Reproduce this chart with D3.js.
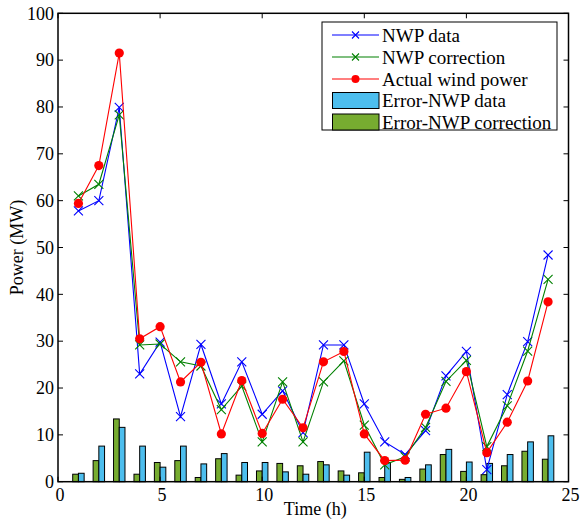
<!DOCTYPE html>
<html>
<head>
<meta charset="utf-8">
<script src="https://cdn.jsdelivr.net/npm/d3@7"></script>
<style>
  html, body { margin: 0; padding: 0; background: #fff; }
</style>
</head>
<body>
<svg id="chart" width="581" height="524"></svg>
<script>
// Hourly wind power: forecast, corrected forecast and measured output (MW)
const hours = [1, 2, 3, 4, 5, 6, 7, 8, 9, 10, 11, 12, 13, 14, 15, 16, 17, 18, 19, 20, 21, 22, 23, 24];
const nwpData = [57.8, 60.0, 79.9, 23.0, 29.8, 13.9, 29.3, 16.6, 25.6, 14.4, 19.4, 10.5, 29.2, 29.2, 16.6, 8.5, 5.8, 10.9, 22.6, 27.8, 2.6, 18.6, 29.9, 48.4];
const nwpCorrection = [61.0, 63.5, 78.3, 29.2, 29.4, 25.6, 24.7, 15.4, 20.4, 8.5, 21.3, 8.5, 21.3, 25.8, 12.1, 3.6, 5.3, 11.6, 21.4, 25.9, 7.5, 16.2, 27.9, 43.2];
const actualPower = [59.4, 67.5, 91.5, 30.5, 33.1, 21.3, 25.5, 10.2, 21.6, 10.3, 17.6, 11.5, 25.6, 27.8, 10.2, 4.5, 4.6, 14.4, 15.7, 23.5, 6.2, 12.7, 21.5, 38.4];
// Absolute errors against the measured output
const errNwpData = [1.8, 7.6, 11.6, 7.6, 3.1, 7.6, 3.8, 6.0, 4.1, 4.1, 2.1, 1.6, 3.6, 1.4, 6.3, 4.1, 0.9, 3.6, 6.9, 4.2, 3.9, 5.8, 8.5, 9.8];
const errNwpCorrection = [1.6, 4.5, 13.4, 1.6, 4.1, 4.5, 0.9, 4.9, 1.4, 2.3, 3.9, 3.4, 4.3, 2.3, 1.9, 0.9, 0.5, 2.7, 5.8, 2.2, 1.5, 3.4, 6.5, 4.8];
const xTicks = [0, 5, 10, 15, 20, 25];
const yTicks = [0, 10, 20, 30, 40, 50, 60, 70, 80, 90, 100];

const W = 581, H = 524;
const margin = { left: 58, right: 12.5, top: 13.3, bottom: 42.3 };
const svg = d3.select("#chart")
  .attr("font-family", "'Liberation Serif', 'Times New Roman', Times, 'DejaVu Serif', serif");

const x = d3.scaleLinear().domain([0, 25]).range([margin.left, W - margin.right]);
const y = d3.scaleLinear().domain([0, 100]).range([H - margin.bottom, margin.top]);

const colors = {
  nwp: "#0000ff", corr: "#008000", actual: "#ff0000",
  barNwp: "#4dbeee", barCorr: "#77ac30"
};
const fontSize = 18;
const legendFontSize = 19;
const barW = 0.28;

// Grouped error bars
const gBars = svg.append("g");
gBars.selectAll("rect.corr").data(hours).join("rect")
  .attr("x", (d) => x(d - barW))
  .attr("width", x(barW) - x(0))
  .attr("y", (d, i) => y(errNwpCorrection[i]))
  .attr("height", (d, i) => y(0) - y(errNwpCorrection[i]))
  .attr("fill", colors.barCorr).attr("stroke", "#000").attr("stroke-width", 1);
gBars.selectAll("rect.nwp").data(hours).join("rect")
  .attr("x", (d) => x(d))
  .attr("width", x(barW) - x(0))
  .attr("y", (d, i) => y(errNwpData[i]))
  .attr("height", (d, i) => y(0) - y(errNwpData[i]))
  .attr("fill", colors.barNwp).attr("stroke", "#000").attr("stroke-width", 1);

// Lines with markers
const line = d3.line().x((d) => x(d[0])).y((d) => y(d[1]));
function drawSeries(values, color, marker) {
  const pts = hours.map((h, i) => [h, values[i]]);
  const g = svg.append("g");
  g.append("path").datum(pts).attr("d", line)
    .attr("fill", "none").attr("stroke", color).attr("stroke-width", 1.1);
  if (marker === "x") {
    const s = 4.5;
    g.selectAll("path.m").data(pts).join("path")
      .attr("d", (d) => `M${x(d[0]) - s},${y(d[1]) - s}L${x(d[0]) + s},${y(d[1]) + s}M${x(d[0]) - s},${y(d[1]) + s}L${x(d[0]) + s},${y(d[1]) - s}`)
      .attr("stroke", color).attr("stroke-width", 1.1).attr("fill", "none");
  } else {
    g.selectAll("circle").data(pts).join("circle")
      .attr("cx", (d) => x(d[0])).attr("cy", (d) => y(d[1])).attr("r", 4.6)
      .attr("fill", color);
  }
}
drawSeries(nwpData, colors.nwp, "x");
drawSeries(nwpCorrection, colors.corr, "x");
drawSeries(actualPower, colors.actual, "o");

// Axes box with inward ticks on all sides
const x0 = x(0), x1 = x(25), y0 = y(0), y1 = y(100);
const tick = 5;
const axes = svg.append("g");
axes.append("rect").attr("x", x0).attr("y", y1).attr("width", x1 - x0).attr("height", y0 - y1)
  .attr("fill", "none").attr("stroke", "#000").attr("stroke-width", 1.5);
xTicks.forEach((t) => {
  axes.append("line").attr("x1", x(t)).attr("x2", x(t)).attr("y1", y0).attr("y2", y0 - tick).attr("stroke", "#000");
  axes.append("line").attr("x1", x(t)).attr("x2", x(t)).attr("y1", y1).attr("y2", y1 + tick).attr("stroke", "#000");
  axes.append("text").attr("x", x(t) + 2).attr("y", y0 + 19).attr("text-anchor", "middle")
    .attr("font-size", fontSize).text(t);
});
yTicks.forEach((t) => {
  axes.append("line").attr("x1", x0).attr("x2", x0 + tick).attr("y1", y(t)).attr("y2", y(t)).attr("stroke", "#000");
  axes.append("line").attr("x1", x1).attr("x2", x1 - tick).attr("y1", y(t)).attr("y2", y(t)).attr("stroke", "#000");
  axes.append("text").attr("x", x0 - 4).attr("y", y(t)).attr("dy", "0.35em").attr("text-anchor", "end")
    .attr("font-size", fontSize).text(t);
});

svg.append("text").attr("x", (x0 + x1) / 2 + 2).attr("y", H - 9).attr("text-anchor", "middle")
  .attr("font-size", fontSize).text("Time (h)");
svg.append("text").attr("transform", `translate(23,${(y0 + y1) / 2}) rotate(-90)`)
  .attr("text-anchor", "middle").attr("font-size", fontSize).text("Power (MW)");

// Legend
const legendItems = [
  { label: "NWP data", type: "x", color: colors.nwp },
  { label: "NWP correction", type: "x", color: colors.corr },
  { label: "Actual wind power", type: "o", color: colors.actual },
  { label: "Error-NWP data", type: "bar", color: colors.barNwp },
  { label: "Error-NWP correction", type: "bar", color: colors.barCorr }
];
const lg = svg.append("g");
lg.append("rect").attr("x", 322).attr("y", 22).attr("width", 235).attr("height", 108)
  .attr("fill", "#fff").attr("stroke", "#000").attr("stroke-width", 1);
const rowY = [35, 57, 79, 100.5, 122];
legendItems.forEach((it, i) => {
  const cy = rowY[i];
  if (it.type === "bar") {
    lg.append("rect").attr("x", 332.5).attr("y", cy - 8).attr("width", 46.5).attr("height", 16)
      .attr("fill", it.color).attr("stroke", "#000").attr("stroke-width", 1);
  } else {
    lg.append("line").attr("x1", 332).attr("x2", 379).attr("y1", cy).attr("y2", cy)
      .attr("stroke", it.color).attr("stroke-width", 1.1);
    if (it.type === "x") {
      const s = 3.5, mx = 355.5;
      lg.append("path").attr("d", `M${mx - s},${cy - s}L${mx + s},${cy + s}M${mx - s},${cy + s}L${mx + s},${cy - s}`)
        .attr("stroke", it.color).attr("stroke-width", 1.1);
    } else {
      lg.append("circle").attr("cx", 355.5).attr("cy", cy).attr("r", 4).attr("fill", it.color);
    }
  }
  lg.append("text").attr("x", 382).attr("y", cy).attr("dy", "0.35em")
    .attr("font-size", legendFontSize).text(it.label);
});
</script>
</body>
</html>
